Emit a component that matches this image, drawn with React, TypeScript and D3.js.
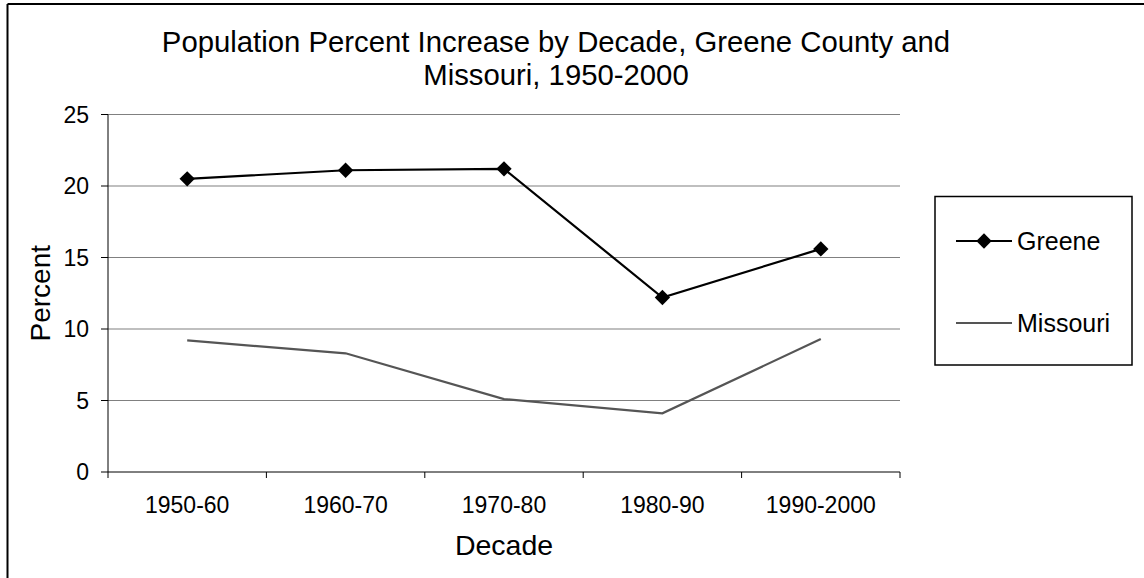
import React from "react";
import * as d3 from "d3";

const decades = ["1950-60", "1960-70", "1970-80", "1980-90", "1990-2000"];
const greene = [20.5, 21.1, 21.2, 12.2, 15.6];
const missouri = [9.2, 8.3, 5.1, 4.1, 9.3];
const yTicks = [0, 5, 10, 15, 20, 25];

const W = 1144;
const H = 578;
const margin = { top: 114.5, right: 244, bottom: 106, left: 108 };
const font = "'Liberation Sans', Arial, sans-serif";

const App: React.FC = () => {
  const plotW = W - margin.left - margin.right;
  const plotH = H - margin.top - margin.bottom;

  const x = d3.scaleBand<string>().domain(decades).range([0, plotW]);
  const y = d3.scaleLinear().domain([0, 25]).range([plotH, 0]);
  const cx = (d: string) => (x(d) ?? 0) + x.bandwidth() / 2;

  const line = d3
    .line<number>()
    .x((_, i) => cx(decades[i]))
    .y((v) => y(v));

  const diamond = d3.symbol().type(d3.symbolDiamond2).size(150)() ?? "";

  return (
    <svg
      width={W}
      height={H}
      style={{ position: "absolute", left: 0, top: 0, background: "#fff" }}
      fontFamily={font}
    >
      {/* outer frame, cropped on right and bottom */}
      <line x1={7.5} x2={W} y1={4} y2={4} stroke="#000" strokeWidth={2} />
      <line x1={7.5} x2={7.5} y1={4} y2={H} stroke="#000" strokeWidth={2} />

      <text x={556} y={52} textAnchor="middle" fontSize={29.3}>
        Population Percent Increase by Decade, Greene County and
      </text>
      <text x={556} y={85} textAnchor="middle" fontSize={29.3}>
        Missouri, 1950-2000
      </text>

      <g transform={`translate(${margin.left},${margin.top})`}>
        {yTicks.map((t) => (
          <g key={t}>
            {t > 0 && (
              <line x1={0} x2={plotW} y1={y(t)} y2={y(t)} stroke="#808080" strokeWidth={1.2} />
            )}
            <line x1={-7} x2={0} y1={y(t)} y2={y(t)} stroke="#000" />
            <text x={-19} y={y(t)} dy="0.36em" textAnchor="end" fontSize={23}>
              {t}
            </text>
          </g>
        ))}
        <line x1={0} x2={0} y1={0} y2={plotH} stroke="#000" />
        <line x1={0} x2={plotW} y1={plotH} y2={plotH} stroke="#000" />
        {decades.map((d, i) => (
          <g key={d}>
            <line
              x1={x(d) ?? 0}
              x2={x(d) ?? 0}
              y1={plotH}
              y2={plotH + 6}
              stroke="#000"
            />
            {i === decades.length - 1 && (
              <line x1={plotW} x2={plotW} y1={plotH} y2={plotH + 6} stroke="#000" />
            )}
            <text x={cx(d)} y={plotH + 41} textAnchor="middle" fontSize={23}>
              {d}
            </text>
          </g>
        ))}

        <path d={line(missouri) ?? ""} fill="none" stroke="#555" strokeWidth={2.2} />
        <path d={line(greene) ?? ""} fill="none" stroke="#000" strokeWidth={2.2} />
        {greene.map((v, i) => (
          <path
            key={i}
            d={diamond}
            transform={`translate(${cx(decades[i])},${y(v)})`}
            fill="#000"
          />
        ))}

        <text
          transform={`translate(-58,${plotH / 2}) rotate(-90)`}
          textAnchor="middle"
          fontSize={28}
        >
          Percent
        </text>
        <text x={plotW / 2} y={plotH + 83} textAnchor="middle" fontSize={28.5}>
          Decade
        </text>
      </g>

      {/* legend */}
      <rect x={935} y={196.5} width={197} height={168.5} fill="#fff" stroke="#000" strokeWidth={1.5} />
      <line x1={956} x2={1012} y1={241} y2={241} stroke="#000" strokeWidth={2.2} />
      <path d={diamond} transform="translate(984,241)" fill="#000" />
      <text x={1017} y={241} dy="0.36em" fontSize={25}>
        Greene
      </text>
      <line x1={956} x2={1012} y1={323} y2={323} stroke="#555" strokeWidth={2.2} />
      <text x={1017} y={323} dy="0.36em" fontSize={25}>
        Missouri
      </text>
    </svg>
  );
};

export default App;
